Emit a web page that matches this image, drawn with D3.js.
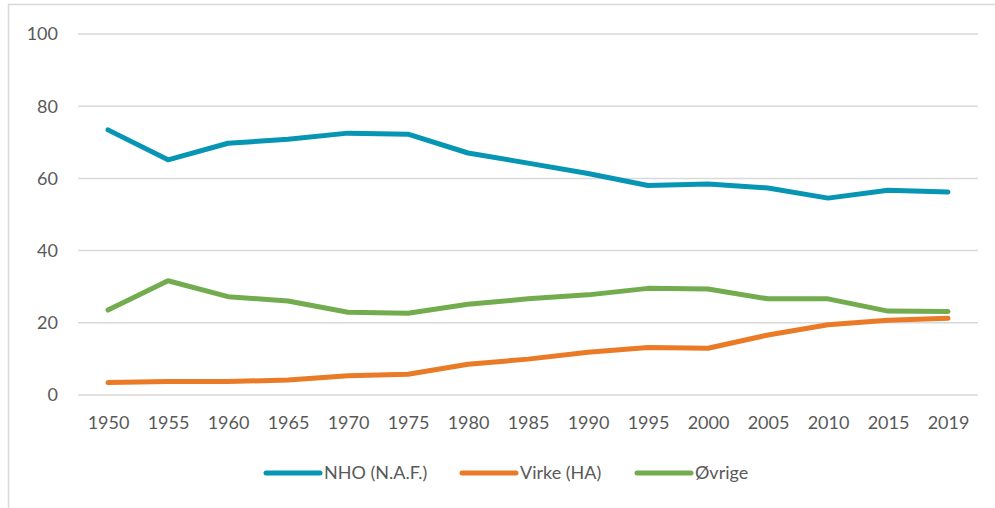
<!DOCTYPE html>
<html><head><meta charset="utf-8">
<script src="https://cdn.jsdelivr.net/npm/d3@7"></script>
<style>body{margin:0;background:#fff}svg{display:block}text{font-family:Lato,"Open Sans",sans-serif;fill:#595959}</style>
</head><body><svg id="c" width="995" height="508"></svg>
<script>
const years = ["1950","1955","1960","1965","1970","1975","1980","1985","1990","1995","2000","2005","2010","2015","2019"];
const nho = [73.3,65.0,69.6,70.7,72.4,72.1,66.9,64.1,61.2,57.9,58.3,57.2,54.4,56.6,56.1];
const virke = [3.3,3.6,3.6,4.0,5.2,5.6,8.4,9.8,11.7,13.0,12.8,16.5,19.3,20.6,21.1];
const ovrige = [23.4,31.5,27.1,25.9,22.8,22.5,25.0,26.5,27.6,29.4,29.2,26.5,26.5,23.1,23.0];
const yTicks = [0,20,40,60,80,100];
const seriesNames = ["NHO (N.A.F.)","Virke (HA)","Øvrige"];
const colors = ["#0795b4","#ea7a26","#73ac4f"];

const svg = d3.select("#c");
svg.append("rect").attr("x",8.5).attr("y",4.5).attr("width",1000).attr("height",520)
  .attr("fill","none").attr("stroke","#d9d9d9").attr("stroke-width",1.5);

const x = d3.scalePoint().domain(years).range([78,978]).padding(0.5);
const y = d3.scaleLinear().domain([0,100]).range([394.5,33.5]);

const yAxis = d3.axisLeft(y).tickValues(yTicks).tickSize(-900).tickPadding(20);
const gy = svg.append("g").attr("transform","translate(78,0)").call(yAxis);
gy.select(".domain").remove();
gy.selectAll(".tick line").attr("stroke","#d9d9d9").attr("stroke-width",1.5);
gy.selectAll(".tick text").attr("font-size",18).attr("fill","#595959").attr("dy","0.35em");

const xAxis = d3.axisBottom(x).tickSize(0).tickPadding(0);
const gx = svg.append("g").attr("transform","translate(0,394.5)").call(xAxis);
gx.select(".domain").remove();
gx.selectAll(".tick text").attr("font-size",18).attr("fill","#595959").attr("y",28).attr("dy","0.35em");

const line = d3.line().x((d,i)=>x(years[i])).y(d=>y(d));
[nho,virke,ovrige].forEach((s,k)=>{
  svg.append("path").datum(s).attr("d",line).attr("fill","none")
    .attr("stroke",colors[k]).attr("stroke-width",5)
    .attr("stroke-linecap","round").attr("stroke-linejoin","round");
});

const legX = [266,462,637];
const lg = svg.append("g");
seriesNames.forEach((n,k)=>{
  lg.append("line").attr("x1",legX[k]).attr("x2",legX[k]+54).attr("y1",473).attr("y2",473)
    .attr("stroke",colors[k]).attr("stroke-width",5).attr("stroke-linecap","round");
  lg.append("text").attr("x",legX[k]+58).attr("y",473).attr("dy","0.35em")
    .attr("font-size",18).text(n);
});
</script></body></html>
